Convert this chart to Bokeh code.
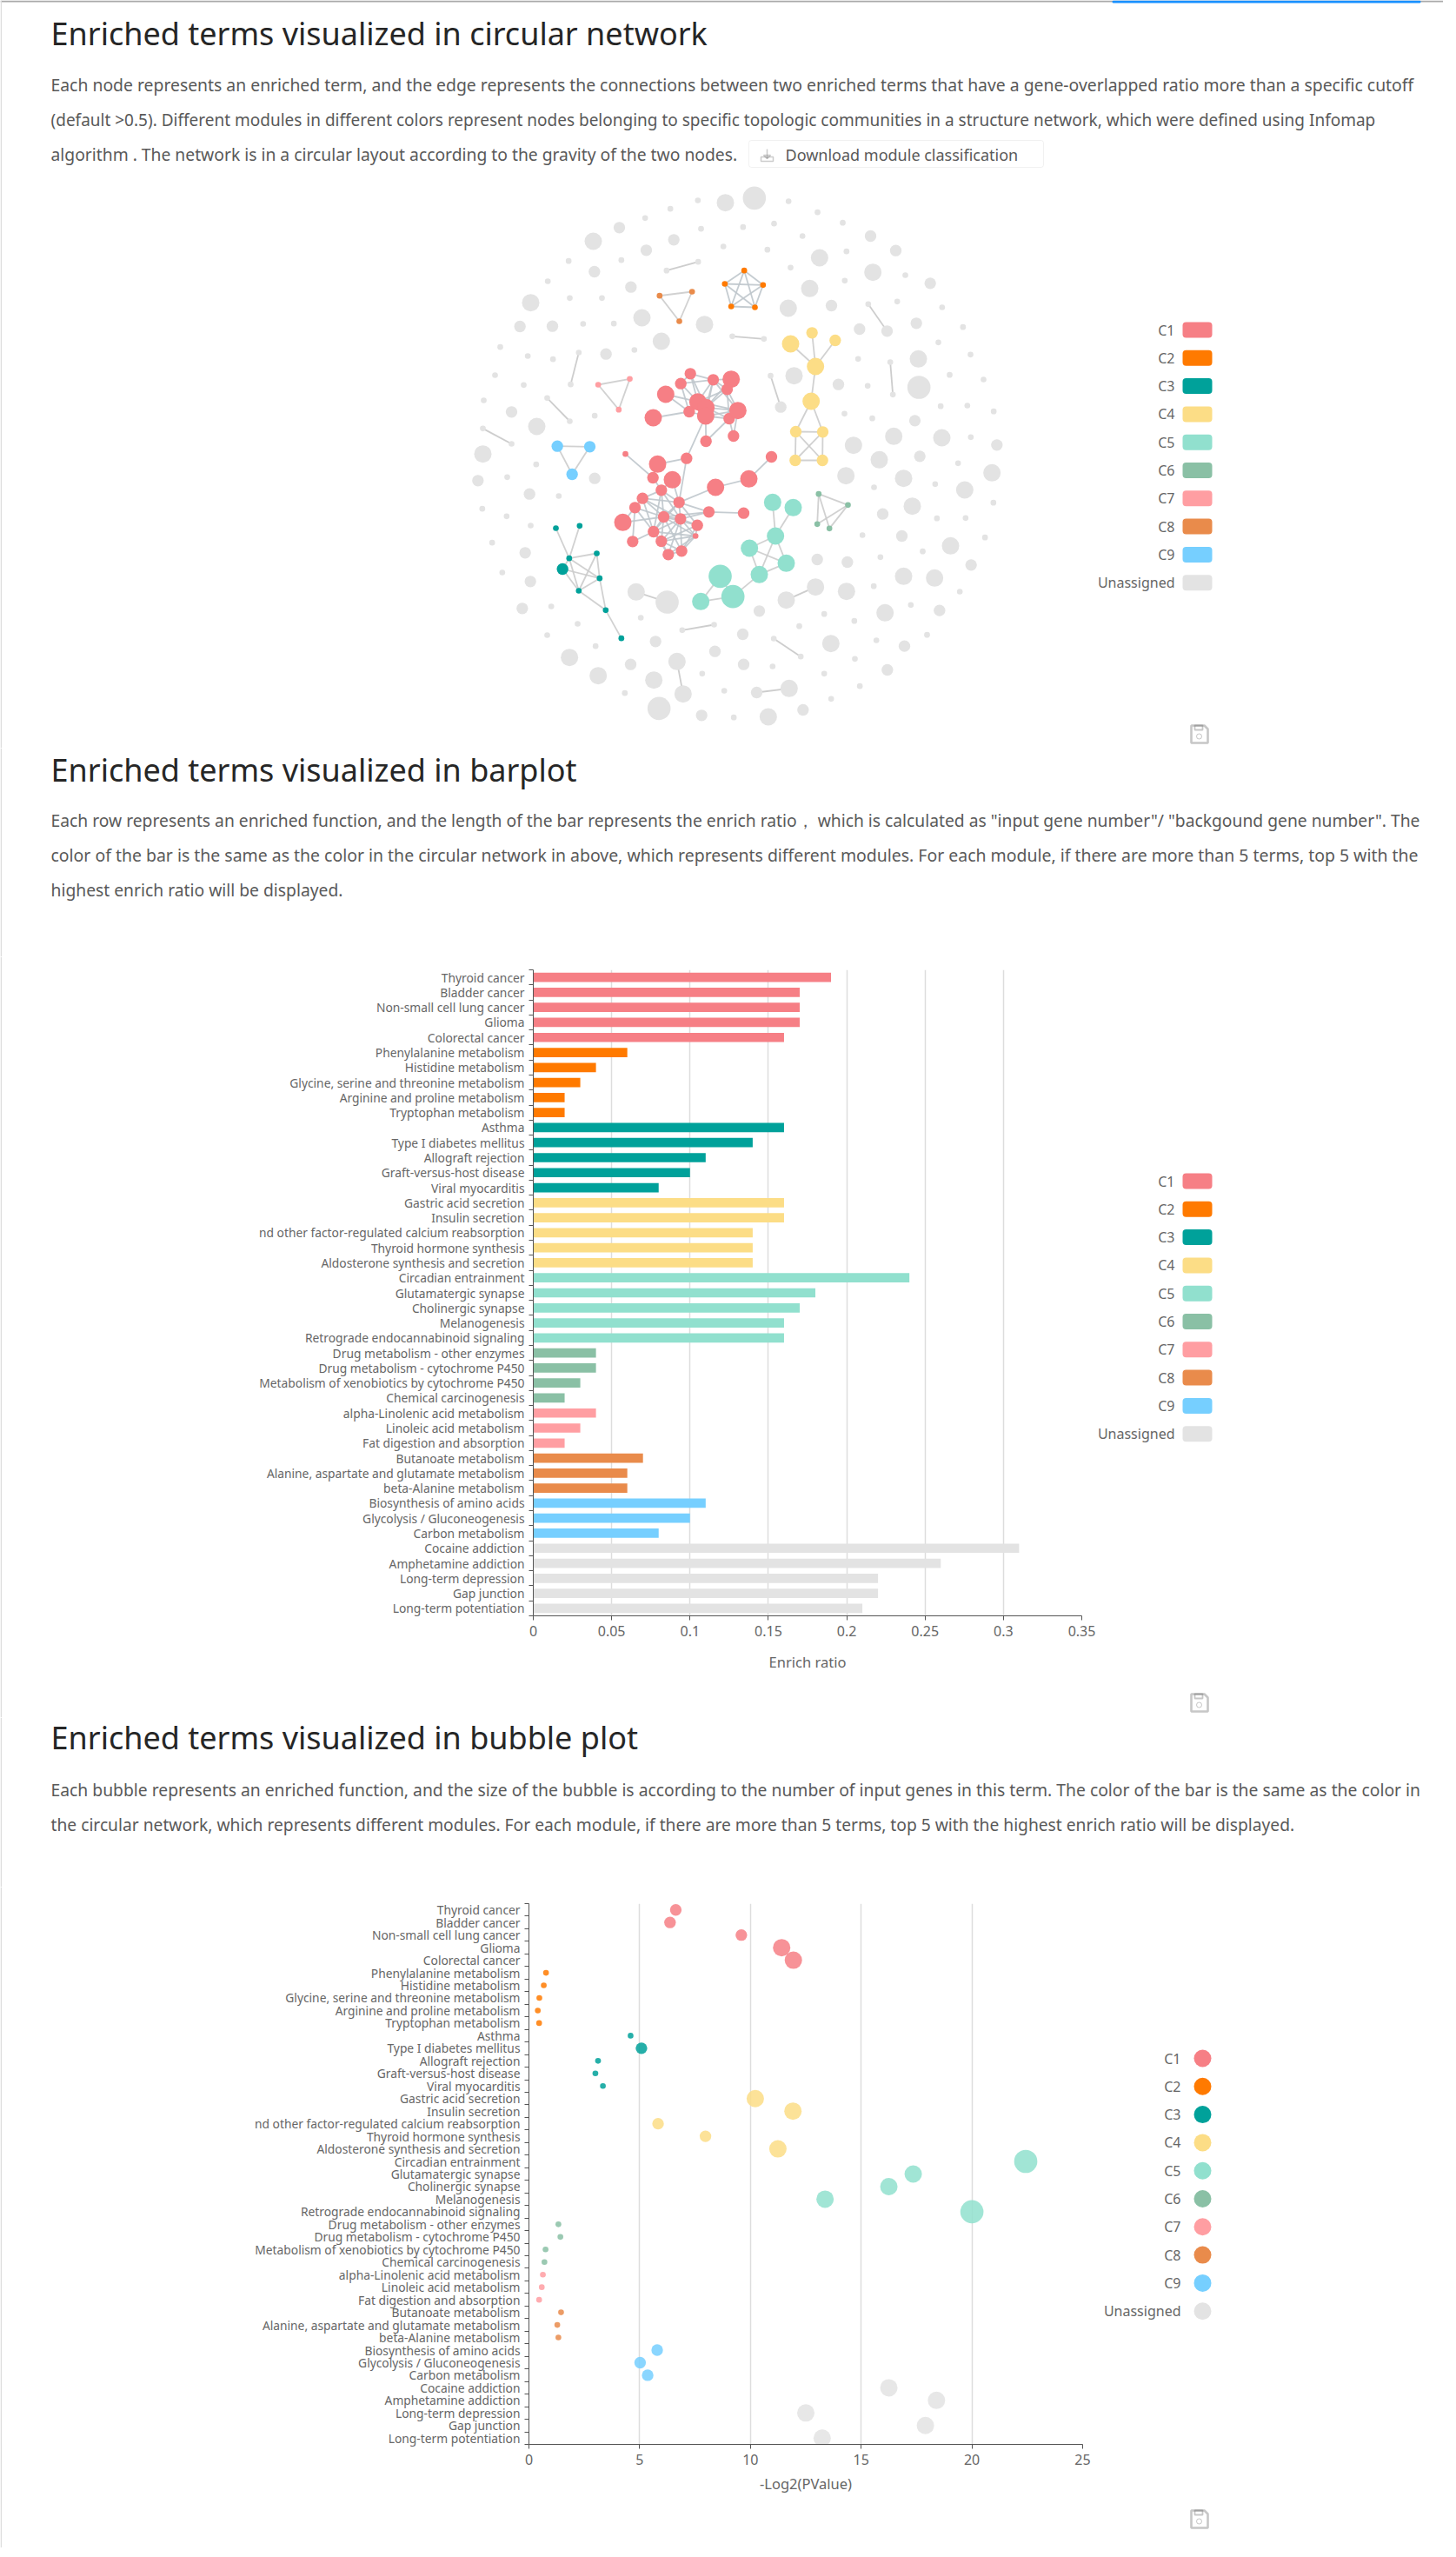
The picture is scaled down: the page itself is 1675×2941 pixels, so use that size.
from bokeh.plotting import figure
from bokeh.layouts import column, row
from bokeh.models import Range1d, Label, BoxAnnotation, PolyAnnotation, FixedTicker, NumeralTickFormatter
from bokeh.embed import file_html
from bokeh.resources import INLINE

FONT = "Noto Sans"
PAGE_W = 1660
SPLIT_X = 1262  # where the side panel (legend) starts
STRIP = 2       # page's thin left rule

MODULES = ["C1", "C2", "C3", "C4", "C5", "C6", "C7", "C8", "C9", "Unassigned"]
COLORS = ["#F67F85", "#FF7A00", "#00A19A", "#FCDD86", "#91E0CE", "#8AC0A5", "#FF9EA2", "#E98B4B", "#76CFFF", "#E3E3E3"]

# ---- terms (bar + bubble) ----
TERMS = ["Thyroid cancer", "Bladder cancer", "Non-small cell lung cancer", "Glioma", "Colorectal cancer",
         "Phenylalanine metabolism", "Histidine metabolism", "Glycine, serine and threonine metabolism",
         "Arginine and proline metabolism", "Tryptophan metabolism",
         "Asthma", "Type I diabetes mellitus", "Allograft rejection", "Graft-versus-host disease", "Viral myocarditis",
         "Gastric acid secretion", "Insulin secretion", "nd other factor-regulated calcium reabsorption",
         "Thyroid hormone synthesis", "Aldosterone synthesis and secretion",
         "Circadian entrainment", "Glutamatergic synapse", "Cholinergic synapse", "Melanogenesis",
         "Retrograde endocannabinoid signaling",
         "Drug metabolism - other enzymes", "Drug metabolism - cytochrome P450",
         "Metabolism of xenobiotics by cytochrome P450", "Chemical carcinogenesis",
         "alpha-Linolenic acid metabolism", "Linoleic acid metabolism", "Fat digestion and absorption",
         "Butanoate metabolism", "Alanine, aspartate and glutamate metabolism", "beta-Alanine metabolism",
         "Biosynthesis of amino acids", "Glycolysis / Gluconeogenesis", "Carbon metabolism",
         "Cocaine addiction", "Amphetamine addiction", "Long-term depression", "Gap junction", "Long-term potentiation"]
TERM_MODULE = [0]*5 + [1]*5 + [2]*5 + [3]*5 + [4]*5 + [5]*4 + [6]*3 + [7]*3 + [8]*3 + [9]*5
ENRICH = [.19, .17, .17, .17, .16, .06, .04, .03, .02, .02, .16, .14, .11, .10, .08,
          .16, .16, .14, .14, .14, .24, .18, .17, .16, .16, .04, .04, .03, .02,
          .04, .03, .02, .07, .06, .06, .11, .10, .08, .31, .26, .22, .22, .21]
LOG2P = [6.63, 6.37, 9.59, 11.41, 11.94, .77, .67, .47, .40, .46, 4.59, 5.08, 3.12, 3.0, 3.34,
         10.22, 11.92, 5.83, 7.97, 11.24, 22.43, 17.35, 16.25, 13.37, 20.0, 1.33, 1.42, .75, .70,
         .63, .58, .46, 1.45, 1.28, 1.33, 5.79, 5.02, 5.36, 16.25, 18.4, 12.5, 17.9, 13.24]
GENE_CLASS = [2, 2, 2, 3, 3, 1, 1, 1, 1, 1, 1, 2, 1, 1, 1, 3, 3, 2, 2, 3, 4, 3, 3, 3, 4, 1, 1, 1, 1,
              1, 1, 1, 1, 1, 1, 2, 2, 2, 3, 3, 3, 3, 3]

# ---- network: (x, y, gene class) in four crops of the layout ----
ORIGIN = {"a": (520, 200), "b": (850, 200), "c": (520, 520), "d": (850, 520)}
GRAY_A = [(847,90,1),(942,98,3),(752,119,1),(665,151,1),(576,184,2),(858,188,1),(764,226,2),(486,231,3),(935,249,1),
          (669,262,2),(583,296,1),(401,299,1),(490,336,2),(329,369,1),(616,389,2),(270,443,3),(405,427,1),(516,427,1),
          (233,525,2),(345,524,2),(451,516,1),(557,515,1),(654,495,3),(870,518,3),(721,576,3),(165,596,1),(260,627,1),
          (347,638,1),(530,620,2),(628,606,1),(147,693,1),(246,727,1),(108,780,1),(204,820,2),(291,870,3),(491,833,1),(105,965,3)]
GRAY_B = [(52,82,4),(170,93,1),(270,131,1),(120,170,1),(13,182,1),(357,167,1),(218,213,1),(453,213,2),(540,263,2),(97,260,1),
          (277,288,3),(370,266,1),(177,322,1),(461,338,3),(573,348,1),(364,367,1),(659,376,2),(243,394,3),(169,462,3),(318,453,2),
          (545,439,1),(700,459,1),(611,514,2),(772,527,1),(415,534,2),(687,580,1),(798,622,1),(618,637,3),(410,637,1),(189,695,3),
          (726,692,1),(843,708,1),(342,725,2),(443,730,1),(620,735,4),(695,800,1),(787,798,1),(878,818,1),(363,826,1),(459,842,1),
          (606,850,2),(533,904,3),(699,909,3),(799,907,1),(889,934,2),(394,935,3)]
GRAY_C = [(289,41,1),(88,97,2),(189,85,1),(491,89,2),(266,143,2),(367,150,1),(103,194,1),(187,220,1),(270,252,1),(137,311,1),
          (251,346,2),(172,414,1),(269,445,2),(241,538,2),(341,531,1),(650,570,1),(432,591,1),(327,630,1),(701,652,2),(494,668,1),
          (404,707,3),(615,731,2),(906,686,2),(503,770,3),(695,785,3),(862,763,1),(938,822,1),(595,830,1),(713,883,4),(860,907,2),(971,914,1)]
GRAY_D = [(483,25,3),(623,13,2),(755,37,1),(872,70,3),(368,80,3),(567,89,3),(465,120,1),(676,109,1),(778,129,3),(877,173,1),
          (597,185,3),(495,212,2),(682,227,1),(781,226,1),(425,285,1),(561,288,2),(848,293,1),(729,322,3),(633,341,1),(269,369,2),
          (373,378,2),(487,361,1),(800,388,2),(567,427,3),(674,433,3),(464,461,1),(761,480,1),(370,479,3),(69,547,2),(691,545,2),
          (592,526,1),(503,553,3),(293,557,1),(397,581,1),(207,599,1),(12,627,2),(648,629,1),(473,648,1),(570,668,2),(316,659,3),
          (399,712,1),(15,731,2),(115,738,1),(511,750,2),(293,763,1),(416,806,1),(317,850,1),(220,888,2),(100,912,3)]
# linked unassigned pairs
GRAY_PAIRS = [(("a",739,332,1),("a",848,302,1)), (("a",436,615,1),("a",408,725,1)), (("a",327,772,1),("a",405,852,1)),
              (("a",105,877,1),("a",204,930,1)), (("a",966,559,1),("b",85,568,1)), (("b",445,448,1),("b",510,541,2)),
              (("b",108,695,1),("b",143,803,2)), (("b",521,648,1),("b",530,760,1)), (("c",634,481,3),("c",741,516,4)),
              (("c",793,613,1),("c",903,594,1)), (("c",775,721,3),("c",796,833,3)), (("d",263,464,3),("d",162,509,3)),
              (("d",119,642,1),("d",212,704,1)), (("d",172,814,3),("d",60,828,2))]

C1_NODES = [("a",736,759,3),("a",693,840,3),("a",821,688,2),("a",788,722,2),("a",900,709,2),("a",962,707,3),("a",948,742,2),
            ("a",847,785,3),("a",817,819,2),("a",875,805,3),("a",874,834,3),("a",955,843,2),("a",985,815,3),("a",875,921,2),
            ("a",970,903,2),
            ("c",597,5,1),("c",708,40,3),("c",808,20,2),("c",692,87,2),("c",759,94,3),("c",908,120,3),("c",721,130,2),
            ("c",656,158,2),("c",782,172,2),("c",630,190,2),("c",885,205,2),("c",588,241,3),("c",729,222,2),("c",787,229,2),
            ("c",845,251,2),("c",694,273,2),("c",839,288,1),("c",622,307,2),("c",721,306,2),("c",745,352,2),("c",791,340,2),
            ("d",15,209,2),("d",33,91,3),("d",111,15,2)]
C1_EDGES = [(0,7),(0,8),(1,8),(2,3),(2,4),(2,7),(3,4),(3,7),(4,5),(4,6),(4,7),(4,9),(5,6),(5,9),(6,7),(6,9),(6,12),(7,8),(7,9),
            (7,10),(7,12),(8,10),(9,10),(9,12),(9,11),(10,11),(10,12),(11,12),(4,12),(2,9),(10,13),(11,13),(12,14),(11,14),(3,8),
            (4,10),(6,11),(10,17),(15,18),(16,18),(16,17),(17,23),(18,21),(19,21),(19,23),(20,23),(20,37),(37,38),(25,36),(25,23),
            (25,27),(25,28),(26,27),(26,24),(24,22),(24,32),(32,30),(21,22),(21,23),(21,27),(21,28),(22,23),(22,27),(22,28),(22,30),
            (23,27),(23,28),(23,29),(24,27),(24,30),(27,28),(27,29),(27,30),(27,31),(27,33),(27,35),(28,29),(28,30),(28,31),(28,33),
            (28,34),(28,35),(29,31),(29,35),(30,33),(30,34),(30,31),(31,33),(31,34),(31,35),(33,34),(33,35),(34,35),(23,30),(21,30),(29,33)]
C2_NODES = [("a",940,378,1),("a",962,456,1),("b",17,332,1),("b",82,382,1),("b",54,459,1)]
C2_EDGES = [(0,1),(0,2),(0,3),(0,4),(1,2),(1,3),(1,4),(2,3),(2,4),(3,4)]
C3_NODES = [("c",357,261,1),("c",439,253,1),("c",403,365,1),("c",498,348,1),("c",380,402,2),("c",508,434,1),("c",436,477,1),
            ("c",529,544,1),("c",583,641,1)]
C3_EDGES = [(0,2),(1,2),(2,3),(2,5),(2,6),(3,5),(3,6),(4,2),(4,5),(4,6),(5,6),(5,7),(6,7),(7,8)]
C4_NODES = [("b",177,585,3),("b",251,547,2),("b",331,573,2),("b",263,663,3),("b",248,783,3),("b",195,888,2),("b",288,889,2),
            ("d",193,27,2),("d",287,27,2)]
C4_EDGES = [(0,3),(1,3),(2,3),(3,4),(4,5),(4,6),(5,6),(5,7),(5,8),(6,7),(6,8),(7,8)]
C5_NODES = [("c",924,427,4),("c",968,497,4),("c",857,514,3),("d",115,172,3),("d",186,190,3),("d",125,288,3),("d",35,330,3),
            ("d",162,382,3),("d",69,421,3)]
C5_EDGES = [(0,2),(2,1),(0,1),(1,8),(3,5),(4,5),(5,6),(5,7),(5,8),(6,7),(6,8),(7,8)]
C6_NODES = [("d",274,143,1),("d",375,181,1),("d",269,247,1),("d",311,262,1)]
C6_EDGES = [(0,1),(0,2),(0,3),(1,2),(1,3)]
C7_NODES = [("a",503,726,1),("a",612,706,1),("a",574,812,1)]
C7_EDGES = [(0,1),(0,2),(1,2)]
C8_NODES = [("a",715,419,1),("a",827,405,1),("a",783,507,1)]
C8_EDGES = [(0,1),(0,2),(1,2)]
C9_NODES = [("a",362,938,2),("a",474,940,2),("c",413,75,2)]
C9_EDGES = [(0,1),(0,2),(1,2)]

# ---- page text ----
H1 = "Enriched terms visualized in circular network"
H2 = "Enriched terms visualized in barplot"
H3 = "Enriched terms visualized in bubble plot"
P1 = ["Each node represents an enriched term, and the edge represents the connections between two enriched terms that have a gene-overlapped ratio more than a specific cutoff",
      "(default >0.5). Different modules in different colors represent nodes belonging to specific topologic communities in a structure network, which were defined using Infomap",
      "algorithm . The network is in a circular layout according to the gravity of the two nodes."]
P2 = ['Each row represents an enriched function, and the length of the bar represents the enrich ratio\uff0c which is calculated as "input gene number"/ "backgound gene number". The',
      "color of the bar is the same as the color in the circular network in above, which represents different modules. For each module, if there are more than 5 terms, top 5 with the",
      "highest enrich ratio will be displayed."]
P3 = ["Each bubble represents an enriched function, and the size of the bubble is according to the number of input genes in this term. The color of the bar is the same as the color in",
      "the circular network, which represents different modules. For each module, if there are more than 5 terms, top 5 with the highest enrich ratio will be displayed."]
# per-line sizes stand in for the reference's justified text
P1_SIZE = [19.37, 19.0, 19.3]
P2_SIZE = [19.27, 19.44, 19.3]
P3_SIZE = [19.32, 19.23]

CLASS_R = 10 / 3  # radius in px per gene class


def gl(q, x, y):
    ox, oy = ORIGIN[q]
    return ox + x / 3, oy + y / 3


def text(p, x, y, s, size, color="#666666", align="left"):
    p.add_layout(Label(x=x, y=y, text=s, text_font=FONT, text_font_size=f"{size}px", text_color=color,
                       text_align=align, text_baseline="middle"))


def box(p, l, r, t, b, fill, line=None, radius=0):
    p.add_layout(BoxAnnotation(left=l, right=r, top=t, bottom=b, fill_color=fill, fill_alpha=1 if fill else 0,
                               line_color=line, line_width=1, border_radius=radius, level="annotation", editable=False))


def poly(p, xs, ys, line="#555555", width=1.5):
    p.add_layout(PolyAnnotation(xs=xs, ys=ys, fill_alpha=0, line_color=line, line_width=width, editable=False))


def save_icon(p, cx, cy):
    poly(p, [cx-9, cx+6, cx+10, cx+10, cx-9], [cy-10, cy-10, cy-6, cy+10, cy+10], line="#444444", width=2.6)
    poly(p, [cx-5, cx+4, cx+4, cx-5], [cy-10, cy-10, cy-5, cy-5], line="#444444", width=1.8)
    box(p, cx-3, cx+3, cy-0.5, cy+5.5, None, line="#444444", radius=3)


def overlay(x0, x1, y0, y1):
    """A frame that fills its canvas, on a page-pixel scale."""
    p = figure(width=int(x1 - x0), height=int(y1 - y0), output_backend="svg", toolbar_location=None,
               x_range=Range1d(x0, x1), y_range=Range1d(y1, y0), x_axis_type=None, y_axis_type=None,
               min_border=0, min_border_left=0, min_border_right=0, min_border_top=0, min_border_bottom=0)
    p.outline_line_color = None
    p.xgrid.visible = False
    p.ygrid.visible = False
    p.frame_align = False
    return p


def head(p, y0, y1, heading, hy, lines, sizes, ly):
    box(p, 0, 1.5, y0, y1, "#DDDDDD")
    text(p, 58, hy, heading, 36, "#262626")
    for i, s in enumerate(lines):
        text(p, 58, ly + 40 * i, s, sizes[i], "#595959")


def legend(p, lx, sx0, sx1, ys, h, radius):
    for m, c, y in zip(MODULES, COLORS, ys):
        text(p, lx, y, m, 16, "#666666", "right")
        box(p, sx0, sx1, y - h / 2, y + h / 2, c, radius=radius)


def strip(y0, y1):
    s = overlay(0, STRIP, y0, y1)
    box(s, 0, 1.5, y0, y1, "#DDDDDD")
    return s


# ============ network ============
net = overlay(0, PAGE_W, 0, 860)
box(net, 0, PAGE_W, 0, 2, "#AAAAAA")
box(net, 1279, 1634, 0, 3, "#1890FF", radius=3)
head(net, 0, 860, H1, 38, P1, P1_SIZE, 97)
box(net, 861, 1200, 161, 192, "#FFFFFF", line="#D0D0D0", radius=3)
text(net, 903, 177, "Download module classification", 18, "#595959")
poly(net, [882, 882], [171, 182])
poly(net, [878, 882, 886], [178, 182, 178])
poly(net, [875, 875, 889, 889], [180, 185, 185, 180])


def draw_module(nodes, edges, color, edge_color):
    pts = [gl(q, x, y) for q, x, y, _ in nodes]
    if edges:
        net.segment([pts[a][0] for a, b in edges], [pts[a][1] for a, b in edges],
                    [pts[b][0] for a, b in edges], [pts[b][1] for a, b in edges],
                    line_color=edge_color, line_width=1.8, line_alpha=0.9)
    net.scatter([p[0] for p in pts], [p[1] for p in pts], size=[2 * CLASS_R * n[3] for n in nodes],
                fill_color=color, line_color=None)


gray_nodes = ([("a",) + n for n in GRAY_A] + [("b",) + n for n in GRAY_B] +
              [("c",) + n for n in GRAY_C] + [("d",) + n for n in GRAY_D])
draw_module(gray_nodes, [], COLORS[9], "#C8C8C8")
for a, b in GRAY_PAIRS:
    draw_module([a, b], [(0, 1)], COLORS[9], "#C8C8C8")
for i, (n, e) in enumerate([(C1_NODES, C1_EDGES), (C2_NODES, C2_EDGES), (C3_NODES, C3_EDGES), (C4_NODES, C4_EDGES),
                            (C5_NODES, C5_EDGES), (C6_NODES, C6_EDGES), (C7_NODES, C7_EDGES), (C8_NODES, C8_EDGES),
                            (C9_NODES, C9_EDGES)]):
    draw_module(n, e, COLORS[i], "#BFC7CC" if i < 2 else "#CCCCCC")

legend(net, 1351, 1360, 1394, [379 + 32.3 * i for i in range(10)], 18, 4)
save_icon(net, 1379, 844)

# ============ shared axis builder ============
rows = [i + 0.5 for i in range(len(TERMS))]
bounds = list(range(len(TERMS) + 1))
term_colors = [COLORS[m] for m in TERM_MODULE]


def chart(y0, y1, fx0, fx1, fy0, fy1, xmax, xstep, title, standoff, title_standoff, fmt):
    p = figure(width=SPLIT_X - STRIP, height=y1 - y0, output_backend="svg", toolbar_location=None,
               x_range=Range1d(0, xmax), y_range=Range1d(len(TERMS), 0),
               min_border_left=fx0 - STRIP, min_border_right=SPLIT_X - fx1,
               min_border_top=fy0 - y0, min_border_bottom=y1 - fy1)
    p.outline_line_color = None
    p.frame_align = False
    nt = int(round(xmax / xstep))
    xticks = [round(i * xstep, 6) for i in range(nt + 1)]
    ax = p.xaxis[0]
    ax.ticker = FixedTicker(ticks=xticks)
    if fmt:
        ax.formatter = NumeralTickFormatter(format=fmt)
    ax.axis_label = title
    ax.axis_label_text_font = FONT
    ax.axis_label_text_font_size = "16.5px"
    ax.axis_label_text_font_style = "normal"
    ax.axis_label_text_color = "#666666"
    ax.axis_label_standoff = title_standoff
    ax.major_label_text_font = FONT
    ax.major_label_text_font_size = "16px"
    ax.major_label_text_color = "#666666"
    ax.major_label_standoff = 6
    ax.major_tick_in = 0
    ax.major_tick_out = 5
    ax.minor_tick_in = 0
    ax.minor_tick_out = 0
    ax.axis_line_color = "#555555"
    ax.major_tick_line_color = "#555555"

    ay = p.yaxis[0]
    ay.ticker = FixedTicker(ticks=rows, minor_ticks=bounds)
    ay.major_label_overrides = {r: t for r, t in zip(rows, TERMS)}
    ay.major_label_text_font = FONT
    ay.major_label_text_font_size = "13.8px"
    ay.major_label_text_color = "#666666"
    ay.major_label_standoff = standoff
    ay.major_tick_in = 0
    ay.major_tick_out = 0
    ay.minor_tick_in = 0
    ay.minor_tick_out = 5
    ay.minor_tick_line_color = "#555555"
    ay.axis_line_color = "#555555"

    p.ygrid.visible = False
    p.xgrid.ticker = FixedTicker(ticks=xticks[1:])
    p.xgrid.grid_line_color = "#DDDDDD"
    p.xgrid.grid_line_width = 1.5
    return p


# ============ bar ============
bar_head = overlay(0, PAGE_W, 860, 1100)
head(bar_head, 860, 1100, H2, 885, P2, P2_SIZE, 943)
bar = chart(1100, 1975, 613, 1244, 1115, 1858, 0.35, 0.05, "Enrich ratio", 5, 15, "0.[00]")
bar.hbar(y=rows, left=0, right=ENRICH, height=0.62, fill_color=term_colors, line_color=None)
bar_side = overlay(SPLIT_X, PAGE_W, 1100, 1975)
legend(bar_side, 1351, 1360, 1394, [1358 + 32.3 * i for i in range(10)], 18, 4)
save_icon(bar_side, 1379, 1958)

# ============ bubble ============
bub_head = overlay(0, PAGE_W, 1975, 2170)
head(bub_head, 1975, 2170, H3, 1998, P3, P3_SIZE, 2058)
bub = chart(2170, 2930, 608, 1245, 2189, 2811, 25, 5, "-Log2(PValue)", 5, 7, None)
bub.scatter(x=LOG2P, y=rows, size=[2 * CLASS_R * g for g in GENE_CLASS], fill_color=term_colors,
            fill_alpha=0.85, line_color=None)
bub_side = overlay(SPLIT_X, PAGE_W, 2170, 2930)
legend(bub_side, 1358, 1373, 1393, [2367 + 32.3 * i for i in range(10)], 20, 10)
save_icon(bub_side, 1379, 2897)

page = column(net, bar_head, row(strip(1100, 1975), bar, bar_side, spacing=0), bub_head,
              row(strip(2170, 2930), bub, bub_side, spacing=0), spacing=0)
open("out.html", "w").write(file_html(page, INLINE))
